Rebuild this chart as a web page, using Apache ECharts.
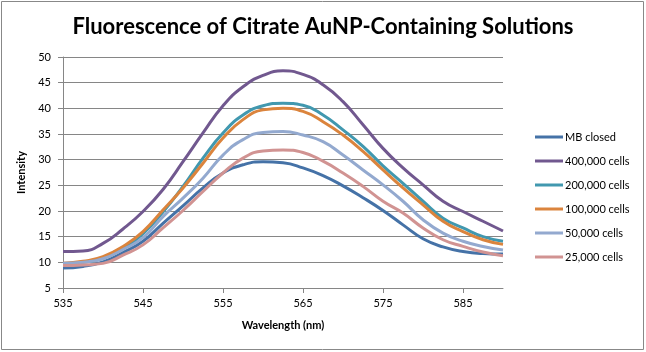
<!DOCTYPE html>
<html>
<head>
<meta charset="utf-8">
<script src="https://cdn.jsdelivr.net/npm/echarts@6/dist/echarts.min.js"></script>
<style>
  html, body { margin: 0; padding: 0; background: #fff; }
  #chart { width: 646px; height: 352px; }
</style>
</head>
<body>
<div id="chart"></div>
<script>
// wavelength (nm), read every 2.5 nm off the picture
const wavelengths = [535, 537.5, 540, 542.5, 545, 547.5, 550, 552.5, 555, 557.5, 560, 562.5,
    565, 567.5, 570, 572.5, 575, 577.5, 580, 582.5, 585, 587.5, 590];

const mbClosed = [8.9, 9.2, 10.1, 11.9, 14.1, 17.6, 21.0, 24.5, 27.4, 29.0, 29.6, 29.4,
    28.4, 26.9, 24.9, 22.6, 20.1, 17.3, 14.6, 13.0, 12.1, 11.7, 11.6];
const cells400k = [12.1, 12.2, 13.7, 16.5, 19.9, 24.2, 29.6, 35.2, 40.5, 44.2, 46.4, 47.3,
    46.6, 44.6, 41.3, 36.8, 32.2, 28.4, 25.1, 21.9, 19.9, 18.0, 16.1];
const cells200k = [9.7, 10.0, 10.8, 12.7, 15.6, 19.8, 24.8, 30.3, 35.2, 38.7, 40.5, 41.0,
    40.6, 38.7, 35.8, 32.6, 28.8, 25.4, 21.9, 18.6, 16.7, 15.0, 14.1];
const cells100k = [9.8, 10.2, 11.1, 13.1, 16.0, 20.2, 24.5, 29.3, 34.2, 37.8, 39.7, 40.0,
    39.4, 37.4, 34.8, 31.6, 28.0, 24.5, 21.2, 18.0, 16.0, 14.4, 13.5];
const cells50k = [9.8, 10.0, 10.7, 12.5, 14.8, 18.9, 22.5, 26.4, 30.9, 33.9, 35.3, 35.5,
    34.8, 33.5, 30.9, 28.0, 25.1, 21.9, 18.3, 15.7, 14.1, 13.1, 12.4];
const cells25k = [9.4, 9.5, 9.8, 11.4, 13.4, 16.7, 20.1, 23.8, 27.4, 30.3, 31.7, 31.9,
    31.4, 29.7, 27.4, 24.8, 21.9, 19.6, 16.7, 14.4, 13.1, 12.0, 11.3];

const seriesNames = ['MB closed', '400,000 cells', '200,000 cells', '100,000 cells', '50,000 cells', '25,000 cells'];
const seriesValues = [mbClosed, cells400k, cells200k, cells100k, cells50k, cells25k];
const colors = ['#4572A7', '#71588F', '#4198AF', '#DB843D', '#93A9CF', '#D19392'];

const xTicks = [535, 545, 555, 565, 575, 585];

const FONT = 'Lato, "Liberation Sans", sans-serif';
const axisGray = '#868686';

const chart = echarts.init(document.getElementById('chart'), null, { renderer: 'canvas' });

const series = seriesNames.map((name, i) => ({
    name: name,
    type: 'line',
    smooth: 0.5,
    showSymbol: false,
    symbol: 'none',
    data: wavelengths.map((w, j) => [w, seriesValues[i][j]]),
    lineStyle: { width: 3, color: colors[i] },
    itemStyle: { color: colors[i] },
    z: 2
}));

chart.setOption({
    animation: false,
    backgroundColor: '#fff',
    title: {
        text: 'Fluorescence of Citrate AuNP-Containing Solutions',
        left: 'center',
        top: 11,
        textStyle: { fontFamily: FONT, fontSize: 22, fontWeight: 'bold', color: '#000' }
    },
    graphic: [{
        type: 'rect',
        shape: { x: 1.5, y: 1.5, width: 642, height: 348 },
        style: { fill: 'none', stroke: '#888', lineWidth: 1 },
        silent: true
    }],
    legend: {
        orient: 'vertical',
        left: 530,
        top: 125,
        itemWidth: 28,
        itemHeight: 3,
        itemGap: 10,
        icon: 'rect',
        data: seriesNames,
        textStyle: { fontFamily: FONT, fontSize: 11, color: '#000', lineHeight: 14, padding: [0, 0, 0, -3] }
    },
    grid: { left: 63, right: 143, top: 57, bottom: 64 },
    xAxis: {
        type: 'value',
        min: 535,
        max: 590,
        interval: 10,
        name: 'Wavelength (nm)',
        nameLocation: 'middle',
        nameGap: 32,
        nameTextStyle: { fontFamily: FONT, fontSize: 11, fontWeight: 'bold', color: '#000' },
        axisLine: { show: true, lineStyle: { color: axisGray, width: 1 } },
        axisTick: { show: true, length: 5, lineStyle: { color: axisGray }, customValues: xTicks },
        axisLabel: { fontFamily: FONT, fontSize: 11, color: '#000', margin: 10, customValues: xTicks },
        splitLine: { show: false }
    },
    yAxis: {
        type: 'value',
        min: 5,
        max: 50,
        interval: 5,
        name: 'Intensity',
        nameLocation: 'middle',
        nameGap: 24,
        nameRotate: 90,
        nameTextStyle: { fontFamily: FONT, fontSize: 11, fontWeight: 'bold', color: '#000' },
        axisLine: { show: true, lineStyle: { color: axisGray, width: 1 } },
        axisTick: { show: true, length: 5, lineStyle: { color: axisGray } },
        axisLabel: { fontFamily: FONT, fontSize: 11, color: '#000', margin: 12 },
        splitLine: { show: true, lineStyle: { color: axisGray, width: 1 } }
    },
    series: series
});
</script>
</body>
</html>
